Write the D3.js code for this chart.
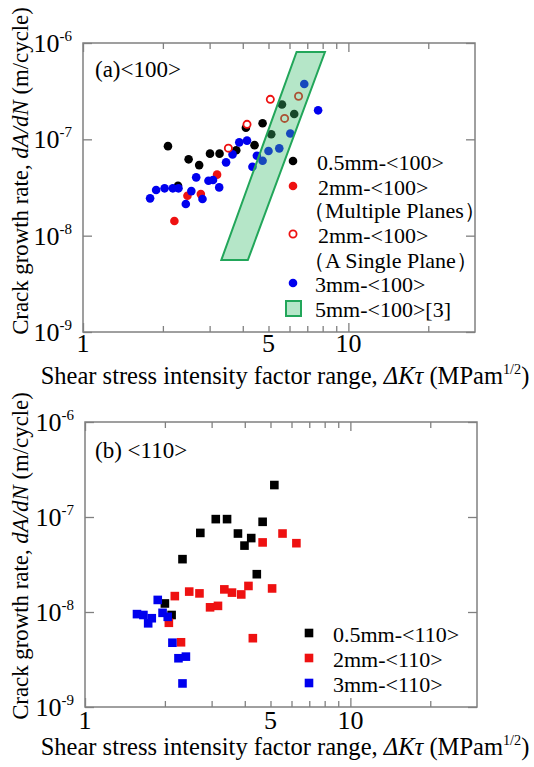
<!DOCTYPE html>
<html>
<head>
<meta charset="utf-8">
<script src="https://cdn.jsdelivr.net/npm/d3@7"></script>
<style>
  body { margin: 0; background: #fff; }
  text { font-family: "Liberation Serif", "DejaVu Serif", serif; }
</style>
</head>
<body>
<div class="container"></div>
<script>
const width = 534;
const height = 767;

// ---- panel (a) <100> ----
const a05X = [2.09, 2.28, 2.50, 2.74, 3.01, 3.27, 3.78, 4.11, 4.43, 4.75, 5.12, 5.62, 6.25];
const a05Y = [8.5e-8, 3.3e-8, 6.2e-8, 5.4e-8, 7.1e-8, 7.1e-8, 7.7e-8, 1.32e-7, 8.7e-8, 1.47e-7, 1.13e-7, 2.3e-7, 1.83e-7];
const a2mX = [2.21, 2.475, 2.78, 3.2];
const a2mY = [1.42e-8, 2.6e-8, 2.7e-8, 4.3e-8];
const a2sX = [3.53, 4.15, 5.08, 5.75, 6.49];
const a2sY = [8.1e-8, 1.43e-7, 2.6e-7, 1.65e-7, 2.8e-7];
const a3X = [1.79, 1.886, 2.03, 2.18, 2.29, 2.44, 2.56, 2.67, 2.82, 2.97, 3.09, 3.26,
             3.46, 3.66, 3.88, 4.15, 4.35, 4.52, 4.75, 5.0, 5.49, 6.04, 6.82, 7.69];
const a3Y = [2.44e-8, 2.98e-8, 3.1e-8, 3.1e-8, 3.1e-8, 2.13e-8, 2.9e-8, 4.03e-8, 2.4e-8, 3.72e-8, 3.78e-8, 3.17e-8,
             5.77e-8, 6.98e-8, 9.3e-8, 9.7e-8, 5.2e-8, 6.76e-8, 6.0e-8, 7.56e-8, 8.06e-8, 1.15e-7, 3.75e-7, 2.0e-7];
// 5mm band [3], corners: top-left, top-right, bottom-right, bottom-left
const bandX = [6.38, 8.16, 4.18, 3.32];
const bandY = [8.06e-7, 8.06e-7, 5.58e-9, 5.58e-9];

// ---- panel (b) <110> ----
const b05X = [2.0, 2.12, 2.33, 2.72, 3.11, 3.43, 3.77, 3.99, 4.23, 4.44, 4.67, 5.17];
const b05Y = [1.23e-8, 9.3e-9, 3.6e-8, 6.8e-8, 9.5e-8, 9.5e-8, 6.7e-8, 5.0e-8, 6.0e-8, 2.5e-8, 8.9e-8, 2.17e-7];
const b2X = [2.07, 2.18, 2.30, 2.47, 2.70, 2.96, 3.17, 3.35, 3.58, 3.88, 4.13, 4.29, 4.67, 5.07, 5.55, 6.26];
const b2Y = [7.7e-9, 1.47e-8, 4.8e-9, 1.64e-8, 1.57e-8, 1.12e-8, 1.16e-8, 1.73e-8, 1.6e-8, 1.53e-8, 1.88e-8, 5.3e-9, 5.4e-8, 1.77e-8, 6.7e-8, 5.3e-8];
const b3X = [1.57, 1.66, 1.73, 1.785, 1.88, 1.96, 2.05, 2.135, 2.25, 2.40, 2.33];
const b3Y = [9.5e-9, 9.3e-9, 7.6e-9, 8.6e-9, 1.34e-8, 9.8e-9, 8.9e-9, 4.75e-9, 3.26e-9, 3.39e-9, 1.77e-9];

const xMinor = [2, 3, 4, 5, 6, 7, 8, 9, 20];
const xMajor = [1, 10];
const xLabels = [1, 5, 10];
const yTicks = [1e-9, 1e-8, 1e-7, 1e-6];
const yExp = ["-9", "-8", "-7", "-6"];

const legendA = ["0.5mm-<100>", "2mm-<100>", "（Multiple Planes）", "2mm-<100>", "（A Single Plane）", "3mm-<100>", "5mm-<100>[3]"];
const legendB = ["0.5mm-<110>", "2mm-<110>", "3mm-<110>"];

const black = "#000", red = "#ee1111", blue = "#0000ee";
const frameColor = "#808080";
const serif = "Liberation Serif";

const svg = d3.select(".container").append("svg")
    .attr("width", width)
    .attr("height", height)
    .attr("font-family", serif);

function zip(xs, ys) { return xs.map((v, i) => [v, ys[i]]); }

function panel(box, label, labelY) {
    const x = d3.scaleLog().domain([1, 30]).range([box.left, box.right]);
    const y = d3.scaleLog().domain([1e-9, 1e-6]).range([box.bottom, box.top]);
    const g = svg.append("g");

    // ticks (inward) on all four sides
    const tk = (axis, vals, len, tr) => {
        const ag = g.append("g").attr("transform", tr)
            .call(axis.tickValues(vals).tickSize(len).tickFormat(""));
        ag.select(".domain").remove();
        ag.selectAll("line").attr("stroke", frameColor).attr("stroke-width", 1.3);
    };
    tk(d3.axisBottom(x), xMinor, -6, `translate(0,${box.bottom})`);
    tk(d3.axisBottom(x), xMajor, -9, `translate(0,${box.bottom})`);
    tk(d3.axisTop(x), xMinor, -6, `translate(0,${box.top})`);
    tk(d3.axisTop(x), xMajor, -9, `translate(0,${box.top})`);
    tk(d3.axisLeft(y), yTicks, -9, `translate(${box.left},0)`);
    tk(d3.axisRight(y), yTicks, -9, `translate(${box.right},0)`);

    g.append("rect")
        .attr("x", box.left).attr("y", box.top)
        .attr("width", box.right - box.left).attr("height", box.bottom - box.top)
        .attr("fill", "none").attr("stroke", frameColor).attr("stroke-width", 1.5);

    // x tick labels
    g.selectAll(".xl").data(xLabels).join("text")
        .attr("x", d => x(d)).attr("y", box.xLabelY)
        .attr("text-anchor", "middle").attr("font-size", 26)
        .attr("font-family", serif)
        .text(d => d);

    // y tick labels 10^n
    yTicks.forEach((d, i) => {
        const t = g.append("text")
            .attr("x", box.left - 11).attr("y", y(d) + 9)
            .attr("text-anchor", "end").attr("font-size", 26)
            .attr("font-family", serif);
        t.append("tspan").text("10");
        t.append("tspan").attr("font-size", 15).attr("dy", -11).text(yExp[i]);
    });

    g.append("text").attr("x", 95).attr("y", labelY)
        .attr("font-size", 23).attr("font-family", serif).text(label);

    // x title
    const xt = g.append("text").attr("x", 285).attr("y", box.titleY)
        .attr("text-anchor", "middle").attr("font-size", 24).attr("font-family", serif);
    xt.append("tspan").text("Shear stress intensity factor range, ");
    xt.append("tspan").attr("font-style", "italic").text("ΔKτ");
    xt.append("tspan").text(" (MPam");
    xt.append("tspan").attr("font-size", 14).attr("dy", -10).text("1/2");
    xt.append("tspan").attr("dy", 10).text(")");
    fit(xt, 489);

    // y title
    const yt = g.append("text")
        .attr("transform", `translate(28,${box.yTitleC}) rotate(-90)`)
        .attr("text-anchor", "middle").attr("font-size", 24).attr("font-family", serif);
    yt.append("tspan").text("Crack growth rate, ");
    yt.append("tspan").attr("font-style", "italic").text("dA/dN");
    yt.append("tspan").text(" (m/cycle)");
    fit(yt, 328);

    return { g, x, y };
}

function fit(t, target) {
    const w = t.node().getComputedTextLength();
    const f = 24 * target / w;
    t.attr("font-size", f);
    t.selectAll("tspan").filter(function () { return this.getAttribute("font-size"); })
        .attr("font-size", f * 0.58);
}

function dots(p, data, color, open) {
    p.g.append("g").selectAll("circle").data(data).join("circle")
        .attr("cx", d => p.x(d[0])).attr("cy", d => p.y(d[1]))
        .attr("r", open ? 3.6 : 4.3)
        .attr("fill", open ? "#fff" : color)
        .attr("stroke", open ? color : "none")
        .attr("stroke-width", 1.8);
}

function squares(p, data, color) {
    const s = 8.6;
    p.g.append("g").selectAll("rect").data(data).join("rect")
        .attr("x", d => p.x(d[0]) - s / 2).attr("y", d => p.y(d[1]) - s / 2)
        .attr("width", s).attr("height", s)
        .attr("fill", color);
}

// ---- panel (a) ----
const pa = panel({ left: 83, right: 475, top: 43, bottom: 332, xLabelY: 352, titleY: 384, yTitleC: 171 },
    "(a)<100>", 77);
dots(pa, zip(a05X, a05Y), black);
dots(pa, zip(a2mX, a2mY), red);
dots(pa, zip(a3X, a3Y), blue);
dots(pa, zip(a2sX, a2sY), red, true);

const bandPts = zip(bandX, bandY).map(d => [pa.x(d[0]), pa.y(d[1])]);
pa.g.append("path")
    .attr("d", d3.line()(bandPts) + "Z")
    .attr("fill", "rgba(60,190,110,0.38)")
    .attr("stroke", "#22a65a").attr("stroke-width", 2);

// legend (a)
const legA = pa.g.append("g");
const lyA = [170, 195, 218, 243, 268, 292, 317];
const lxA = [317, 318, 303, 318, 303, 315, 315];
legendA.forEach((t, i) => {
    legA.append("text").attr("x", lxA[i]).attr("y", lyA[i]).attr("font-size", 22)
        .attr("font-family", serif).text(t);
});
legA.append("circle").attr("cx", 293).attr("cy", lyA[0] - 9).attr("r", 4.3).attr("fill", black);
legA.append("circle").attr("cx", 293).attr("cy", lyA[1] - 9).attr("r", 4.3).attr("fill", red);
legA.append("circle").attr("cx", 293).attr("cy", lyA[3] - 9).attr("r", 3.6)
    .attr("fill", "#fff").attr("stroke", red).attr("stroke-width", 1.8);
legA.append("circle").attr("cx", 293).attr("cy", lyA[5] - 9).attr("r", 4.3).attr("fill", blue);
legA.append("rect").attr("x", 286).attr("y", lyA[6] - 16).attr("width", 15).attr("height", 15)
    .attr("fill", "rgba(60,190,110,0.38)").attr("stroke", "#22a65a").attr("stroke-width", 2);

// ---- panel (b) ----
const pb = panel({ left: 85, right: 477, top: 422, bottom: 707, xLabelY: 729, titleY: 755, yTitleC: 556 },
    "(b) <110>", 458);
squares(pb, zip(b05X, b05Y), black);
squares(pb, zip(b2X, b2Y), red);
squares(pb, zip(b3X, b3Y), blue);

const lyB = [642, 667, 692];
const colB = [black, red, blue];
legendB.forEach((t, i) => {
    pb.g.append("text").attr("x", 333).attr("y", lyB[i]).attr("font-size", 22)
        .attr("font-family", serif).text(t);
    pb.g.append("rect").attr("x", 309 - 4.3).attr("y", lyB[i] - 9 - 4.3)
        .attr("width", 8.6).attr("height", 8.6).attr("fill", colB[i]);
});
</script>
</body>
</html>
